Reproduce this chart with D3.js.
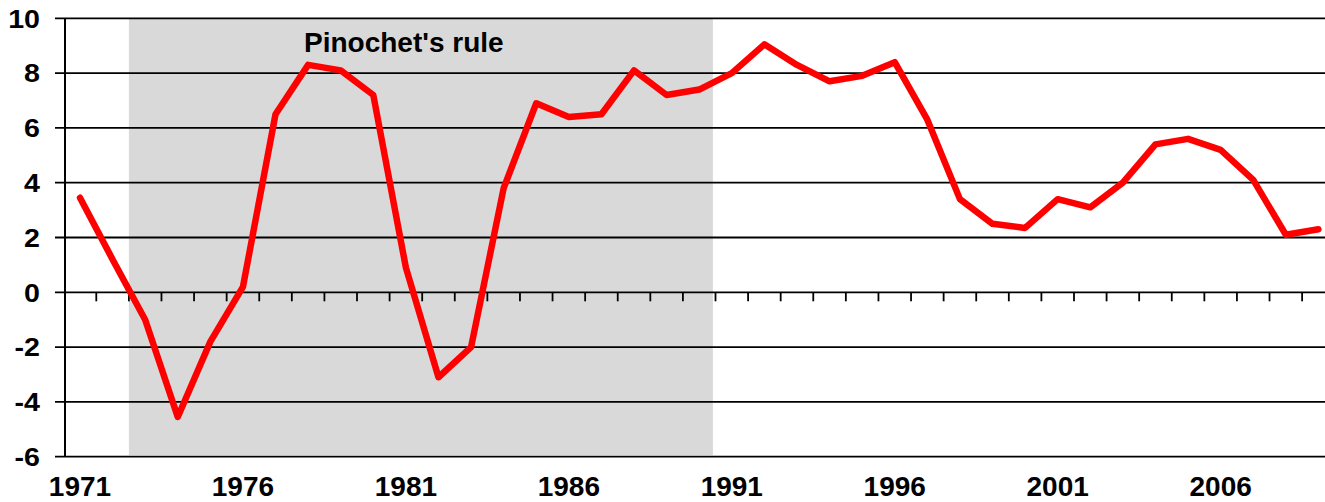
<!DOCTYPE html>
<html>
<head>
<meta charset="utf-8">
<script src="https://cdn.jsdelivr.net/npm/d3@7"></script>
<style>
  html, body { margin: 0; padding: 0; background: #fff; }
  svg { display: block; }
  text { font-family: "Liberation Sans", Arial, sans-serif; font-weight: bold; fill: #000; }
</style>
</head>
<body>
<svg id="chart" width="1325" height="502"></svg>
<script>
// ---- data ----
const years = ["1971","1972","1973","1974","1975","1976","1977","1978","1979","1980",
               "1981","1982","1983","1984","1985","1986","1987","1988","1989","1990",
               "1991","1992","1993","1994","1995","1996","1997","1998","1999","2000",
               "2001","2002","2003","2004","2005","2006","2007","2008","2009"];
const growth = [3.45, 1.2, -1.0, -4.55, -1.8, 0.2, 6.5, 8.3, 8.1, 7.2,
                0.9, -3.1, -2.0, 3.8, 6.9, 6.4, 6.5, 8.1, 7.2, 7.4,
                8.0, 9.05, 8.3, 7.7, 7.9, 8.4, 6.3, 3.4, 2.5, 2.35,
                3.4, 3.1, 4.0, 5.4, 5.6, 5.2, 4.1, 2.1, 2.3];
const yTicks = [-6, -4, -2, 0, 2, 4, 6, 8, 10];
const xTickLabels = ["1971","1976","1981","1986","1991","1996","2001","2006"];
const shadeStart = "1973";
const shadeEnd = "1990";
const shadeLabel = "Pinochet's rule";

// ---- layout ----
const svg = d3.select("#chart");
const left = 63.7, bandW = 32.59;
const x = d3.scaleBand().domain(years).range([left, left + bandW * years.length]).padding(0);
const y = d3.scaleLinear().domain([-6, 10]).range([456.7, 18.3]);
const cx = d => x(d) + x.bandwidth() / 2;

// shaded period
svg.append("rect")
  .attr("x", x(shadeStart))
  .attr("y", y(10))
  .attr("width", x(shadeEnd) + x.bandwidth() * 0.92 - x(shadeStart))
  .attr("height", y(-6) - y(10) - 1.5)
  .attr("fill", "#d9d9d9");

// horizontal gridlines (with left tick stubs)
svg.append("g").selectAll("line").data(yTicks).join("line")
  .attr("x1", 55).attr("x2", 1325)
  .attr("y1", d => y(d)).attr("y2", d => y(d))
  .attr("stroke", "#000").attr("stroke-width", 1.8);

// y axis line
svg.append("line")
  .attr("x1", 65).attr("x2", 65)
  .attr("y1", y(10)).attr("y2", y(-6))
  .attr("stroke", "#000").attr("stroke-width", 2);

// x-axis ticks on zero line (band boundaries)
svg.append("g").selectAll("line").data(years.slice(1)).join("line")
  .attr("x1", d => x(d)).attr("x2", d => x(d))
  .attr("y1", y(0)).attr("y2", y(0) + 9)
  .attr("stroke", "#000").attr("stroke-width", 1.8);

// y tick labels
svg.append("g").selectAll("text").data(yTicks).join("text")
  .attr("transform", d => `translate(40,${y(d)}) scale(1.1,1)`)
  .attr("dy", "0.36em")
  .attr("text-anchor", "end")
  .attr("font-size", 26)
  .text(d => d);

// x tick labels
svg.append("g").selectAll("text").data(xTickLabels).join("text")
  .attr("x", d => cx(d)).attr("y", 496)
  .attr("text-anchor", "middle")
  .attr("font-size", 28)
  .text(d => d);

// annotation
svg.append("text")
  .attr("x", 304).attr("y", 51.7)
  .attr("font-size", 28)
  .text(shadeLabel);

// line
const line = d3.line().x((d, i) => cx(years[i])).y(d => y(d));
svg.append("path")
  .datum(growth)
  .attr("d", line)
  .attr("fill", "none")
  .attr("stroke", "#ff0000")
  .attr("stroke-width", 6.5)
  .attr("stroke-linejoin", "round")
  .attr("stroke-linecap", "round");
</script>
</body>
</html>
